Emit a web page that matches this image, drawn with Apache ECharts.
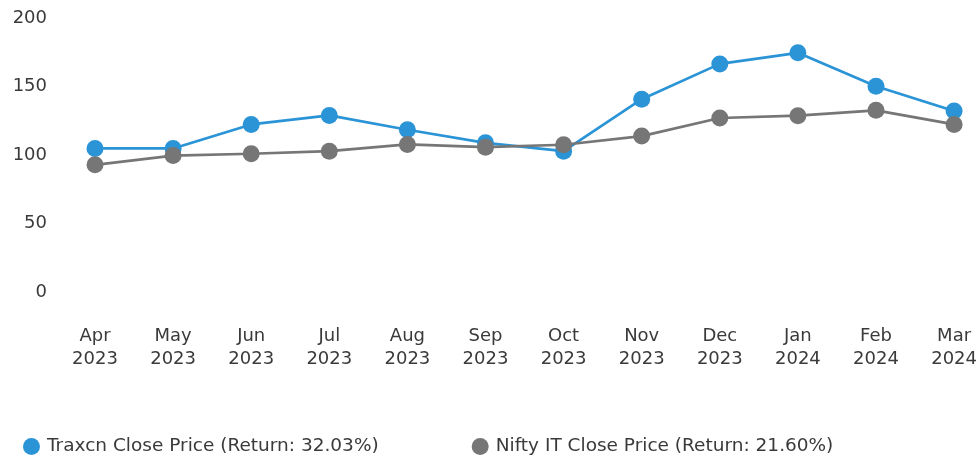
<!DOCTYPE html>
<html>
<head>
<meta charset="utf-8">
<script src="https://cdn.jsdelivr.net/npm/echarts@6/dist/echarts.min.js"></script>
<style>
  html, body { margin: 0; padding: 0; background: #fff; }
  #chart { width: 980px; height: 460px; }
</style>
</head>
<body>
<div id="chart"></div>
<script>
// Monthly close prices, rebased, Apr 2023 – Mar 2024
const months = ['Apr\n2023', 'May\n2023', 'Jun\n2023', 'Jul\n2023', 'Aug\n2023', 'Sep\n2023',
                'Oct\n2023', 'Nov\n2023', 'Dec\n2023', 'Jan\n2024', 'Feb\n2024', 'Mar\n2024'];
const traxcnClose = [104.8, 104.8, 122.3, 128.9, 118.4, 108.9, 102.8, 140.7, 166.5, 174.6, 150.2, 132.1];
const niftyItClose = [92.8, 99.6, 100.9, 102.8, 107.7, 105.7, 107.5, 113.8, 127.0, 128.7, 132.6, 122.3];
const seriesNames = ['Traxcn Close Price (Return: 32.03%)', 'Nifty IT Close Price (Return: 21.60%)'];
const yTicks = { min: 0, max: 200, interval: 50 };

const BLUE = '#2B94D6';
const GREY = '#767676';
const TEXT = '#3a3a3a';
const FONT = '"DejaVu Sans", sans-serif';

const chart = echarts.init(document.getElementById('chart'));
chart.setOption({
  animation: false,
  grid: { left: 95, right: 25, top: 18, bottom: 168, containLabel: false },
  legend: {
    left: 18,
    top: 432,
    icon: 'circle',
    itemWidth: 17,
    itemHeight: 17,
    itemGap: 93,
    textStyle: { fontFamily: FONT, fontSize: 18.5, color: TEXT, padding: [0, 0, 0, 2] },
    data: seriesNames
  },
  xAxis: {
    type: 'category',
    data: months,
    boundaryGap: false,
    axisLine: { show: false },
    axisTick: { show: false },
    axisLabel: {
      margin: 33,
      fontFamily: FONT,
      fontSize: 18,
      lineHeight: 23,
      color: TEXT,
      interval: 0
    }
  },
  yAxis: {
    type: 'value',
    min: yTicks.min,
    max: yTicks.max,
    interval: yTicks.interval,
    splitLine: { show: false },
    axisLine: { show: false },
    axisTick: { show: false },
    axisLabel: {
      margin: 48,
      fontFamily: FONT,
      fontSize: 18,
      color: TEXT,
      padding: [4, 0, 0, 0]
    }
  },
  series: [
    {
      name: seriesNames[0],
      type: 'line',
      data: traxcnClose,
      symbol: 'circle',
      symbolSize: 17,
      lineStyle: { color: BLUE, width: 2.7 },
      itemStyle: { color: BLUE }
    },
    {
      name: seriesNames[1],
      type: 'line',
      data: niftyItClose,
      symbol: 'circle',
      symbolSize: 17,
      lineStyle: { color: GREY, width: 2.7 },
      itemStyle: { color: GREY }
    }
  ]
});
</script>
</body>
</html>
